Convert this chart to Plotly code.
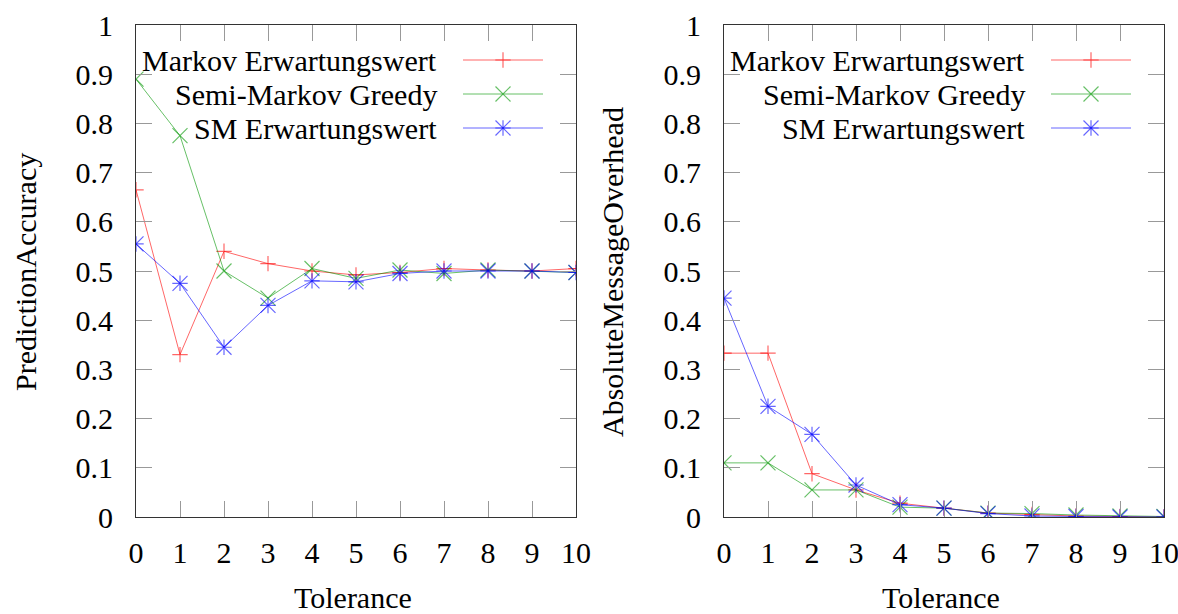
import plotly.graph_objects as go

tolerance = [0, 1, 2, 3, 4, 5, 6, 7, 8, 9, 10]

# Left panel: PredictionAccuracy
acc_markov = [0.665, 0.33, 0.54, 0.515, 0.50, 0.492, 0.497, 0.505, 0.502, 0.50, 0.505]
acc_greedy = [0.89, 0.775, 0.50, 0.445, 0.505, 0.485, 0.502, 0.495, 0.502, 0.50, 0.497]
acc_sm = [0.555, 0.475, 0.345, 0.43, 0.48, 0.478, 0.495, 0.50, 0.50, 0.50, 0.497]

# Right panel: AbsoluteMessageOverhead
ovh_markov = [0.333, 0.333, 0.088, 0.055, 0.028, 0.018, 0.008, 0.005, 0.002, 0.001, 0.0]
ovh_greedy = [0.11, 0.11, 0.055, 0.055, 0.02, 0.018, 0.008, 0.007, 0.004, 0.002, 0.001]
ovh_sm = [0.445, 0.225, 0.168, 0.065, 0.025, 0.018, 0.007, 0.002, 0.001, 0.0, 0.0]

series_names = ["Markov Erwartungswert", "Semi-Markov Greedy", "SM Erwartungswert"]
y_titles = ["PredictionAccuracy", "AbsoluteMessageOverhead"]
x_title = "Tolerance"
y_ticks = [0, 0.1, 0.2, 0.3, 0.4, 0.5, 0.6, 0.7, 0.8, 0.9, 1]
y_ticktext = ["0", "0.1", "0.2", "0.3", "0.4", "0.5", "0.6", "0.7", "0.8", "0.9", "1"]

W, H = 1178, 614
FONT = "Liberation Serif"
FS = 30
RED = "rgba(255,0,0,0.6)"
GREEN = "rgba(0,150,0,0.6)"
BLUE = "rgba(0,0,255,0.6)"

fig = go.Figure()

def add_panel(xa, ya, ym, yg, ys):
    kw = dict(xaxis=xa, yaxis=ya, showlegend=False, hoverinfo="skip")
    fig.add_trace(go.Scatter(x=tolerance, y=ym, mode="lines+markers",
                             line=dict(color=RED, width=1),
                             marker=dict(symbol="cross-thin", size=11, line=dict(color=RED, width=1.2)), **kw))
    fig.add_trace(go.Scatter(x=tolerance, y=yg, mode="lines+markers",
                             line=dict(color=GREEN, width=1),
                             marker=dict(symbol="x-thin", size=15, line=dict(color=GREEN, width=1.2)), **kw))
    fig.add_trace(go.Scatter(x=tolerance, y=ys, mode="lines+markers",
                             line=dict(color=BLUE, width=1),
                             marker=dict(symbol="cross-thin", size=11, line=dict(color=BLUE, width=1.2)), **kw))
    fig.add_trace(go.Scatter(x=tolerance, y=ys, mode="markers",
                             marker=dict(symbol="x-thin", size=15, line=dict(color=BLUE, width=1.2)), **kw))

add_panel("x", "y", acc_markov, acc_greedy, acc_sm)
add_panel("x2", "y2", ovh_markov, ovh_greedy, ovh_sm)

ydom = [1 - 517 / H, 1 - 25 / H]
xdoms = [[136 / W, 576 / W], [724 / W, 1164 / W]]

axis_common = dict(showgrid=False, zeroline=False, showline=True, linecolor="#333333", linewidth=1,
                   mirror="allticks", ticks="inside", ticklen=16, tickcolor="#999999", tickwidth=1,
                   automargin=False, fixedrange=True, ticklabeloverflow="allow",
                   tickfont=dict(family=FONT, size=FS, color="black"))

fig.update_layout(
    width=W, height=H,
    margin=dict(l=0, r=0, t=0, b=0, autoexpand=False),
    paper_bgcolor="white", plot_bgcolor="rgba(0,0,0,0)",
    xaxis=dict(domain=xdoms[0], range=[0, 10], tickvals=tolerance, anchor="y", ticklabelstandoff=9, **axis_common),
    yaxis=dict(domain=ydom, range=[0, 1], tickvals=y_ticks, ticktext=y_ticktext, anchor="x", ticklabelstandoff=16, **axis_common),
    xaxis2=dict(domain=xdoms[1], range=[0, 10], tickvals=tolerance, anchor="y2", ticklabelstandoff=9, **axis_common),
    yaxis2=dict(domain=ydom, range=[0, 1], tickvals=y_ticks, ticktext=y_ticktext, anchor="x2", ticklabelstandoff=16, **axis_common),
    xaxis3=dict(domain=[0, 1], range=[0, W], visible=False, anchor="y3", fixedrange=True, automargin=False),
    yaxis3=dict(domain=[0, 1], range=[H, 0], visible=False, anchor="x3", fixedrange=True, automargin=False),
)

# Axis titles
annotations = []
for cx, t in zip([25, 612], y_titles):
    annotations.append(dict(x=cx, y=272, xref="x3", yref="y3", text=t, textangle=-90, showarrow=False,
                            xanchor="center", yanchor="middle", font=dict(family=FONT, size=FS, color="black")))
for cx in [353, 941]:
    annotations.append(dict(x=cx, y=597, xref="x3", yref="y3", text=x_title, showarrow=False,
                            xanchor="center", yanchor="middle", font=dict(family=FONT, size=FS, color="black")))

# Custom gnuplot-style legends (text right-aligned, sample on the right)
row_y = [60, 94, 128]
colors = [RED, GREEN, BLUE]
shapes = []
for off in [0, 588]:
    text_right = 439 + off
    s0, s1, sm = 463 + off, 543 + off, 503 + off
    for name, yy, col in zip(series_names, row_y, colors):
        annotations.append(dict(x=text_right, y=yy, xref="x3", yref="y3", text=name, showarrow=False,
                                xanchor="right", yanchor="middle", font=dict(family=FONT, size=FS, color="black")))
        shapes.append(dict(type="line", xref="x3", yref="y3", x0=s0, x1=s1, y0=yy, y1=yy,
                           line=dict(color=col, width=1)))
    kw = dict(xaxis="x3", yaxis="y3", showlegend=False, hoverinfo="skip", mode="markers")
    fig.add_trace(go.Scatter(x=[sm], y=[row_y[0]], marker=dict(symbol="cross-thin", size=11, line=dict(color=RED, width=1.2)), **kw))
    fig.add_trace(go.Scatter(x=[sm], y=[row_y[1]], marker=dict(symbol="x-thin", size=15, line=dict(color=GREEN, width=1.2)), **kw))
    fig.add_trace(go.Scatter(x=[sm], y=[row_y[2]], marker=dict(symbol="cross-thin", size=11, line=dict(color=BLUE, width=1.2)), **kw))
    fig.add_trace(go.Scatter(x=[sm], y=[row_y[2]], marker=dict(symbol="x-thin", size=15, line=dict(color=BLUE, width=1.2)), **kw))

fig.update_layout(annotations=annotations, shapes=shapes)
fig.write_html("out.html")
